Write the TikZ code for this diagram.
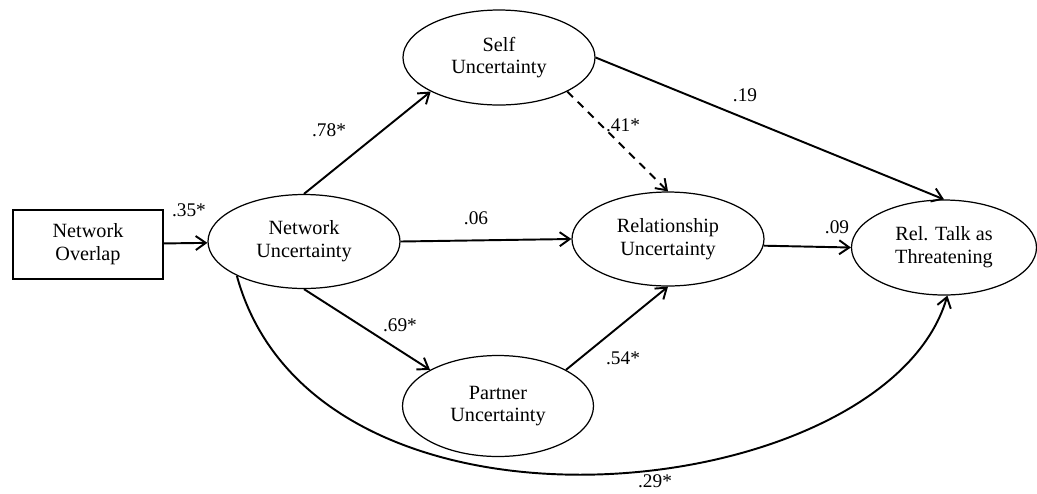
\documentclass[tikz,border=0pt]{standalone}
\usepackage{fontspec}
\setmainfont{Liberation Serif}
\usepackage{tikz}
\usetikzlibrary{shapes.geometric,arrows.meta}

\begin{document}
\begin{tikzpicture}[
        latent/.style={ellipse, draw=black, line width=0.7pt, minimum width=3.84cm, minimum height=1.88cm,
                      inner sep=0pt, align=center, font=\fontsize{11.5}{13}\selectfont},
        observed/.style={rectangle, draw=black, line width=0.9pt, minimum width=3cm, minimum height=1.38cm,
                        align=center, font=\fontsize{11.5}{13}\selectfont},
        coef/.style={font=\fontsize{11}{13}\selectfont, inner sep=0pt},
        path/.style={-{Straight Barb[length=2mm,width=2.8mm]}, line width=1.1pt}
    ]
        \useasboundingbox (0,0) rectangle (20.74,-9.86);

        % Draw the measured variable and the latent variables
        \node[observed] (overlap) at (1.76,-4.89) {Network\\Overlap};
        \node[latent] (netunc) at (6.08,-4.83) {Network\\Uncertainty};
        \node[latent, minimum height=1.9cm] (self) at (9.98,-1.15) {Self\\Uncertainty};
        \node[latent] (rel) at (13.36,-4.78) {Relationship\\Uncertainty};
        \node[latent, minimum height=2.02cm, minimum width=3.82cm] (partner) at (9.96,-8.12) {Partner\\Uncertainty};
        \node[latent, minimum width=3.7cm, minimum height=1.9cm] (talk) at (18.88,-4.95) {Rel. Talk as\\Threatening};

        % Add path arrows
        \draw[path] (overlap) -- (netunc);
        \draw[path] (netunc.north) -- (self.south west);
        \draw[path] (netunc.east) -- (rel.west);
        \draw[path] (netunc.south) -- (partner.north west);
        \draw[path] (self.east) -- (talk.north);
        \draw[path, dash pattern=on 1.6mm off 1.3mm] (self.south east) -- (rel.north);
        \draw[path] (partner.north east) -- (rel.south);
        \draw[path] (rel.-4) -- (talk.west);
        \draw[path] (netunc.207) .. controls +(1.6,-5.85) and +(-1.22,-4.2) .. (talk.-86);

        % Add path coefficients
        \node[coef] (c35) at (3.78,-4.2) {.35*};
        \node[coef] (c78) at (6.58,-2.6) {.78*};
        \node[coef] (c19) at (14.9,-1.9) {.19};
        \node[coef] (c41) at (12.46,-2.5) {.41*};
        \node[coef] (c06) at (9.52,-4.36) {.06};
        \node[coef] (c09) at (16.74,-4.54) {.09};
        \node[coef] (c69) at (8.0,-6.5) {.69*};
        \node[coef] (c54) at (12.46,-7.16) {.54*};
        \node[coef] (c29) at (13.1,-9.62) {.29*};

    \end{tikzpicture}
\end{document}
